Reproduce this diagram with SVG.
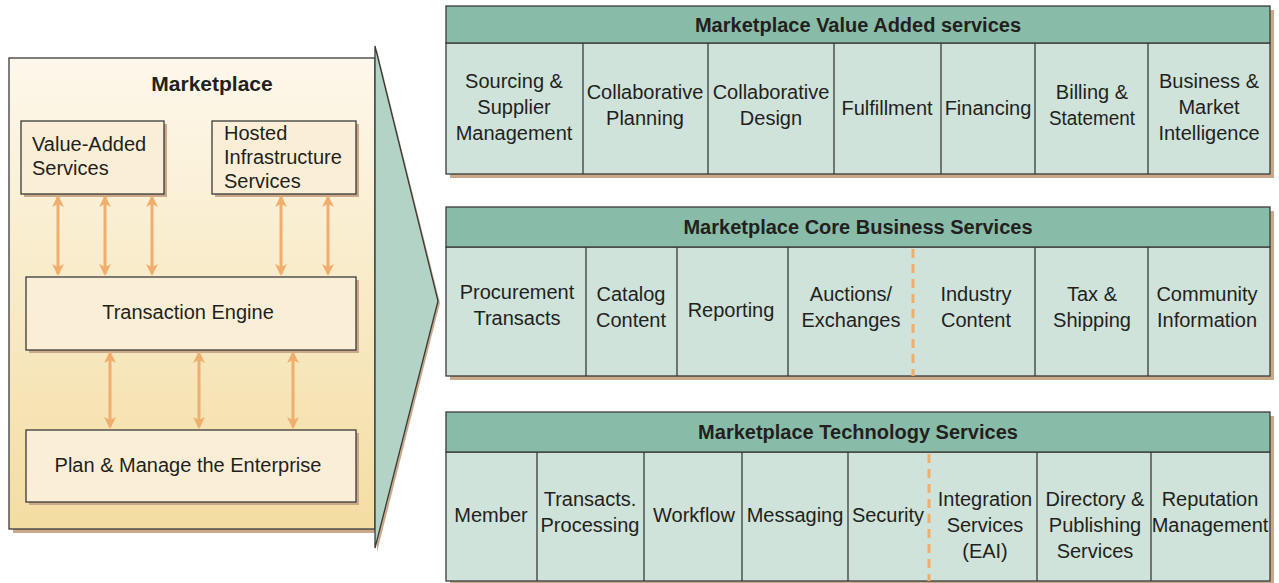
<svg xmlns="http://www.w3.org/2000/svg" width="1279" height="583" viewBox="0 0 1279 583">
<defs>
<linearGradient id="mpg" x1="0" y1="0" x2="0" y2="1">
<stop offset="0" stop-color="#fdf8ec"/>
<stop offset="1" stop-color="#f4dda2"/>
</linearGradient>
<marker id="ah" viewBox="0 0 12 12" refX="10" refY="6" markerWidth="12" markerHeight="12" orient="auto-start-reverse" markerUnits="userSpaceOnUse">
<path d="M0,0 L12,6 L0,12 L3,6 z" fill="#efae6e"/>
</marker>
</defs>
<style>
text{font-family:"Liberation Sans",Arial,sans-serif;fill:#231f20;}
.t{font-size:20px;text-anchor:middle;}
.tl{font-size:20px;}
.h{font-size:20px;font-weight:bold;text-anchor:middle;}
.shadow{fill:#caa98b;}
.box{fill:#faefd6;stroke:#3a3a3a;stroke-width:1.3;}
.hdr{fill:#88bca8;stroke:#3a3a3a;stroke-width:1.3;}
.body{fill:#cfe3da;stroke:#3a3a3a;stroke-width:1.3;}
.div{stroke:#3a3a3a;stroke-width:1.3;}
.dash{stroke:#efae6e;stroke-width:3;stroke-dasharray:9,6;}
.arr{stroke:#efae6e;stroke-width:3;fill:none;marker-start:url(#ah);marker-end:url(#ah);}
</style>

<g id="marketplace">
<rect class="shadow" x="13" y="62" width="366" height="471"/>
<rect x="9" y="58" width="366" height="471" fill="url(#mpg)" stroke="#3a3a3a" stroke-width="1.3"/>
<text class="h" x="212" y="91" style="font-size:21px">Marketplace</text>
</g>

<g id="callout">
<polygon points="377,50 440,303 377,552" class="shadow"/>
<polygon points="375,46 438,301 375,548" fill="#b2d3c6" stroke="#3a3a3a" stroke-width="1.3"/>
</g>

<g id="value-added-services">
<rect class="shadow" x="24" y="124" width="143" height="73"/>
<rect class="box" x="21" y="121" width="143" height="73"/>
<text class="tl" x="32" y="151">Value-Added</text>
<text class="tl" x="32" y="175">Services</text>
</g>

<g id="hosted-infrastructure">
<rect class="shadow" x="215" y="124" width="144" height="73"/>
<rect class="box" x="212" y="121" width="144" height="73"/>
<text class="tl" x="224" y="140">Hosted</text>
<text class="tl" x="224" y="164">Infrastructure</text>
<text class="tl" x="224" y="188">Services</text>
</g>

<g id="transaction-engine">
<rect class="shadow" x="29" y="280" width="330" height="73"/>
<rect class="box" x="26" y="277" width="330" height="73"/>
<text class="t" x="188" y="319">Transaction Engine</text>
</g>

<g id="plan-manage">
<rect class="shadow" x="29" y="433" width="330" height="72"/>
<rect class="box" x="26" y="430" width="330" height="72"/>
<text class="t" x="188" y="472">Plan &amp; Manage the Enterprise</text>
</g>

<g id="connectors">
<line class="arr" x1="58" y1="197" x2="58" y2="274"/>
<line class="arr" x1="105" y1="197" x2="105" y2="274"/>
<line class="arr" x1="152" y1="197" x2="152" y2="274"/>
<line class="arr" x1="281" y1="197" x2="281" y2="274"/>
<line class="arr" x1="328" y1="197" x2="328" y2="274"/>
<line class="arr" x1="110" y1="353" x2="110" y2="427"/>
<line class="arr" x1="199" y1="353" x2="199" y2="427"/>
<line class="arr" x1="293" y1="353" x2="293" y2="427"/>
<line class="arr" x1="600" y1="347" x2="662" y2="347"/>
</g>

<g id="value-added-panel">
<rect class="shadow" x="450" y="10" width="824" height="168"/>
<rect class="body" x="446" y="43" width="824" height="131"/>
<rect class="hdr" x="446" y="6" width="824" height="37"/>
<text class="h" x="858" y="32">Marketplace Value Added services</text>
<line class="div" x1="583" y1="43" x2="583" y2="174"/>
<line class="div" x1="708" y1="43" x2="708" y2="174"/>
<line class="div" x1="834" y1="43" x2="834" y2="174"/>
<line class="div" x1="941" y1="43" x2="941" y2="174"/>
<line class="div" x1="1035" y1="43" x2="1035" y2="174"/>
<line class="div" x1="1148" y1="43" x2="1148" y2="174"/>
<text class="t" x="514" y="88">Sourcing &amp;</text>
<text class="t" x="514" y="114">Supplier</text>
<text class="t" x="514" y="140">Management</text>
<text class="t" x="645" y="99">Collaborative</text>
<text class="t" x="645" y="125">Planning</text>
<text class="t" x="771" y="99">Collaborative</text>
<text class="t" x="771" y="125">Design</text>
<text class="t" x="887" y="115">Fulfillment</text>
<text class="t" x="988" y="115">Financing</text>
<text class="t" x="1092" y="99">Billing &amp;</text>
<text class="t" x="1092" y="125" textLength="86" lengthAdjust="spacingAndGlyphs">Statement</text>
<text class="t" x="1209" y="88">Business &amp;</text>
<text class="t" x="1209" y="114">Market</text>
<text class="t" x="1209" y="140">Intelligence</text>
</g>

<g id="core-business-panel">
<rect class="shadow" x="450" y="211" width="824" height="169"/>
<rect class="body" x="446" y="247" width="824" height="129"/>
<rect class="hdr" x="446" y="207" width="824" height="40"/>
<text class="h" x="858" y="234">Marketplace Core Business Services</text>
<line class="div" x1="586" y1="247" x2="586" y2="376"/>
<line class="div" x1="677" y1="247" x2="677" y2="376"/>
<line class="div" x1="788" y1="247" x2="788" y2="376"/>
<line class="dash" x1="913" y1="249" x2="913" y2="376"/>
<line class="div" x1="1035" y1="247" x2="1035" y2="376"/>
<line class="div" x1="1148" y1="247" x2="1148" y2="376"/>
<text class="t" x="517" y="299">Procurement</text>
<text class="t" x="517" y="325">Transacts</text>
<text class="t" x="631" y="301">Catalog</text>
<text class="t" x="631" y="327">Content</text>
<text class="t" x="731" y="317">Reporting</text>
<text class="t" x="851" y="301">Auctions/</text>
<text class="t" x="851" y="327">Exchanges</text>
<text class="t" x="976" y="301">Industry</text>
<text class="t" x="976" y="327">Content</text>
<text class="t" x="1092" y="301">Tax &amp;</text>
<text class="t" x="1092" y="327">Shipping</text>
<text class="t" x="1207" y="301">Community</text>
<text class="t" x="1207" y="327">Information</text>
</g>

<g id="technology-panel">
<rect class="shadow" x="450" y="416" width="824" height="169"/>
<rect class="body" x="446" y="452" width="824" height="129"/>
<rect class="hdr" x="446" y="412" width="824" height="40"/>
<text class="h" x="858" y="439">Marketplace Technology Services</text>
<line class="div" x1="537" y1="452" x2="537" y2="581"/>
<line class="div" x1="644" y1="452" x2="644" y2="581"/>
<line class="div" x1="742" y1="452" x2="742" y2="581"/>
<line class="div" x1="848" y1="452" x2="848" y2="581"/>
<line class="dash" x1="929" y1="454" x2="929" y2="581"/>
<line class="div" x1="1037" y1="452" x2="1037" y2="581"/>
<line class="div" x1="1151" y1="452" x2="1151" y2="581"/>
<text class="t" x="491" y="522">Member</text>
<text class="t" x="590" y="506">Transacts.</text>
<text class="t" x="590" y="532">Processing</text>
<text class="t" x="694" y="522">Workflow</text>
<text class="t" x="795" y="522">Messaging</text>
<text class="t" x="888" y="522">Security</text>
<text class="t" x="985" y="506">Integration</text>
<text class="t" x="985" y="532">Services</text>
<text class="t" x="985" y="558">(EAI)</text>
<text class="t" x="1095" y="506">Directory &amp;</text>
<text class="t" x="1095" y="532">Publishing</text>
<text class="t" x="1095" y="558">Services</text>
<text class="t" x="1210" y="506">Reputation</text>
<text class="t" x="1210" y="532">Management</text>
</g>
</svg>
